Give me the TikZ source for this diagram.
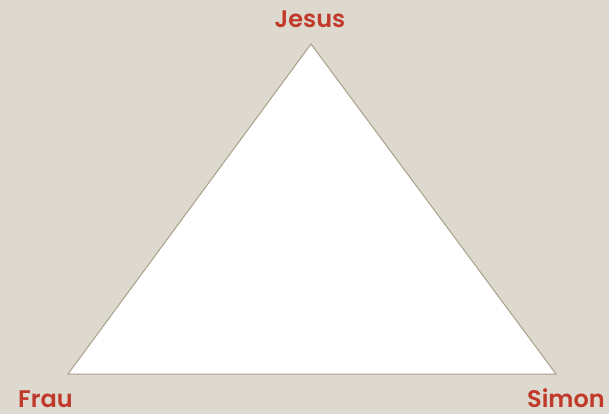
\documentclass[tikz,border=0pt]{standalone}
\usepackage{fontspec}
\setmainfont{Poppins}[BoldFont={* SemiBold}]
\definecolor{bg}{RGB}{221,217,206}
\definecolor{lab}{RGB}{192,57,43}
\definecolor{edge}{RGB}{168,160,137}
\begin{document}
\begin{tikzpicture}[x=1pt,y=-1pt,
  lbl/.style={text=lab,font=\bfseries\fontsize{24}{28}\selectfont,inner sep=0pt,anchor=base,text depth=0pt}]
\fill[bg] (0,0) rectangle (609,414);
\useasboundingbox (0,0) rectangle (609,414);
\coordinate (top) at (311,44);
\coordinate (bl) at (68,374);
\coordinate (br) at (556,374);
\filldraw[fill=white,draw=edge,line width=1pt] (top) -- (bl) -- (br) -- cycle;
\node[lbl] (jesus) at (310,28) {Jesus};
\node[lbl] (frau) at (45.5,407) {Frau};
\node[lbl] (simon) at (566,407) {Simon};
\end{tikzpicture}
\end{document}
